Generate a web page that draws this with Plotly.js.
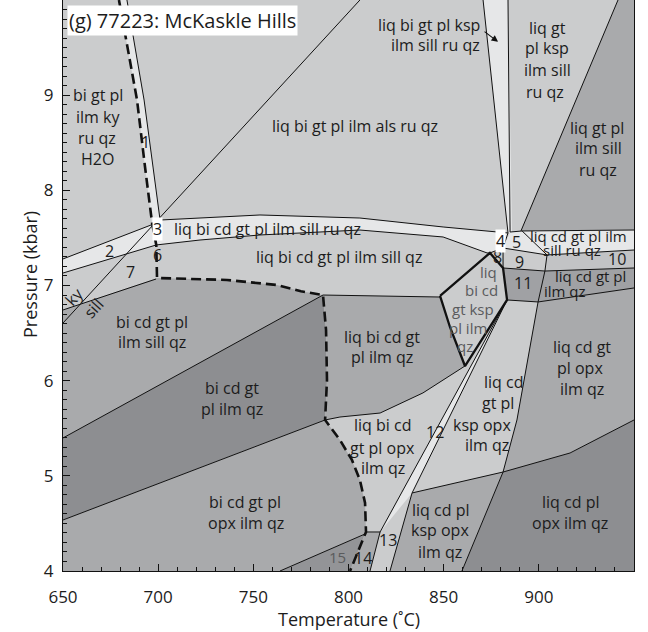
<!DOCTYPE html>
<html>
<head>
<meta charset="utf-8">
<script src="https://cdn.plot.ly/plotly-3.0.1.min.js"></script>
<style>html,body{margin:0;padding:0;background:#fff;}#chart{width:648px;height:632px;}</style>
</head>
<body>
<div id="chart"></div>
<script>
// ---------- field boundaries (Temperature °C, Pressure kbar) ----------
const band1T = [679.4, 688.9, 693.1, 696.8, 701.0, 697.3, 692.6, 683.6];
const band1P = [10, 8.949, 8.245, 7.657, 7.688, 8.245, 8.949, 10];
const band2T = [650, 699.4, 699.0, 650];
const band2P = [7.279, 7.66, 7.426, 7.131];
const bandCT = [699.4, 701.0, 753.5, 806.0, 849.7, 883.8, 881.2, 875.5, 872.8, 849.7, 806.0, 753.5, 722.0, 699.0];
const bandCP = [7.66, 7.688, 7.741, 7.709, 7.615, 7.552, 7.394, 7.35, 7.342, 7.51, 7.583, 7.531, 7.478, 7.426];
const kspBandT = [870.7, 883.8, 885.9, 883.8];
const kspBandP = [10, 10, 7.562, 7.552];
const ruqzT = [941.6, 950, 950, 890.6];
const ruqzP = [10, 10, 7.583, 7.573];
const band5T = [884.9, 891.2, 950, 950, 904.3, 881.2];
const band5P = [7.562, 7.573, 7.583, 7.373, 7.321, 7.394];
const f10T = [904.3, 950, 950, 903.2];
const f10P = [7.321, 7.373, 7.184, 7.152];
const f11T = [881.2, 903.2, 950, 950, 899.6, 883.3];
const f11P = [7.184, 7.152, 7.184, 6.974, 6.827, 6.848];
const fOpxT = [899.6, 950, 950, 916.4, 881.2, 888.5, 893.8];
const fOpxP = [6.827, 6.974, 5.587, 5.24, 5.04, 5.587, 6.186];
const fCdPlT = [881.2, 916.4, 950, 950, 859.6, 870.7];
const fCdPlP = [5.04, 5.24, 5.587, 4, 4, 4.536];
const fKspOpxT = [833.4, 881.2, 870.7, 859.6, 821.8];
const fKspOpxP = [4.82, 5.04, 4.536, 4, 4];
const band12T = [883.3, 833.4, 816.6];
const band12P = [6.848, 4.82, 4.41];
const fLiqQzT = [786.6, 848.1, 853.3, 861.2, 839.1, 816.6, 795.5, 787.7, 788.7, 788.2];
const fLiqQzP = [6.9, 6.879, 6.564, 6.154, 5.871, 5.66, 5.618, 5.587, 6.007, 6.533];
const fSillT = [650, 698.9, 699.4, 736.2, 762.4, 775.0, 786.6, 650];
const fSillP = [6.743, 7.068, 7.079, 7.058, 7.005, 6.94, 6.9, 5.398];
const fDarkT = [650, 786.6, 788.2, 788.7, 787.7, 650];
const fDarkP = [5.398, 6.9, 6.533, 6.007, 5.587, 4.536];
const fBiOpxT = [650, 787.7, 795.5, 801.8, 806.0, 808.7, 809.2, 808.7, 764, 650];
const fBiOpxP = [4.536, 5.587, 5.377, 5.167, 4.956, 4.715, 4.41, 4.389, 4, 4];
const f15T = [764, 808.7, 800.8];
const f15P = [4, 4.389, 4];
const f14T = [808.7, 809.2, 816.6, 811.3, 800.8];
const f14P = [4.389, 4.41, 4.41, 4, 4];

// solidus (dashed)
const solidusT = [679.4, 688.9, 693.1, 696.8, 699.0, 699.4, 736.2, 762.4, 775.0, 786.6, 788.2, 788.7, 787.7, 795.5, 801.8, 806.0, 808.7, 809.2, 800.8];
const solidusP = [10, 8.949, 8.245, 7.657, 7.426, 7.079, 7.058, 7.005, 6.94, 6.9, 6.533, 6.007, 5.587, 5.377, 5.167, 4.956, 4.715, 4.41, 4.0];

// thin reaction lines
const thinLines = [
  [[683.6, 692.6, 697.3, 701.0], [10, 8.949, 8.245, 7.688]],
  [[650, 806], [6.606, 10]],
  [[650, 699.4], [7.279, 7.66]],
  [[650, 699.0], [7.131, 7.426]],
  [[701.0, 753.5, 806, 849.7, 883.8], [7.688, 7.741, 7.709, 7.615, 7.552]],
  [[699.0, 722, 753.5, 806, 849.7, 872.8, 874.3], [7.426, 7.478, 7.531, 7.583, 7.51, 7.342, 7.342]],
  [[870.7, 883.8, 881.2, 881.2], [10, 7.552, 7.394, 7.184]],
  [[883.8, 884.9], [10, 7.562]],
  [[941.6, 890.6], [10, 7.573]],
  [[884.9, 891.2, 950], [7.562, 7.573, 7.583]],
  [[891.2, 904.3], [7.573, 7.321]],
  [[874.3, 881.2, 904.3, 950], [7.342, 7.394, 7.321, 7.373]],
  [[904.3, 903.2, 899.6], [7.321, 7.152, 6.827]],
  [[881.2, 903.2, 950], [7.184, 7.152, 7.184]],
  [[883.3, 899.6, 950], [6.848, 6.827, 6.974]],
  [[899.6, 893.8, 888.5, 881.2, 870.7, 859.6], [6.827, 6.186, 5.587, 5.04, 4.536, 4]],
  [[881.2, 916.4, 950], [5.04, 5.24, 5.587]],
  [[833.4, 881.2], [4.82, 5.04]],
  [[883.3, 833.4, 821.8], [6.848, 4.82, 4]],
  [[883.3, 816.6, 811.3], [6.848, 4.41, 4]],
  [[809.2, 816.6], [4.41, 4.41]],
  [[764, 808.7], [4, 4.389]],
  [[786.6, 848.1], [6.9, 6.879]],
  [[787.7, 795.5, 816.6, 839.1, 861.2], [5.587, 5.618, 5.66, 5.871, 6.154]],
  [[650, 698.9], [6.743, 7.068]],
  [[650, 786.6], [5.398, 6.9]],
  [[650, 787.7], [4.536, 5.587]]
];
// thick boundary of the ksp-bearing liquid field
const thickT = [848.1, 874.3, 881.2, 883.3, 861.2, 853.3, 848.1];
const thickP = [6.89, 7.342, 7.184, 6.848, 6.154, 6.564, 6.89];

// field labels [text, T, P]
const fieldLabels = [
  ["bi gt pl", 668.4, 9.002], ["ilm ky", 668.4, 8.771], ["ru qz", 667.9, 8.55], ["H2O", 667.9, 8.329],
  ["liq bi gt pl ilm als ru qz", 803.4, 8.676],
  ["liq gt", 904.3, 9.706], ["pl ksp", 904.3, 9.496], ["ilm sill", 904.3, 9.264], ["ru qz", 903.2, 9.033],
  ["liq gt pl", 930.6, 8.655], ["ilm sill", 931.1, 8.445], ["ru qz", 931.1, 8.214],
  ["liq bi cd gt pl ilm sill ru qz", 757.2, 7.594],
  ["liq bi cd gt pl ilm sill qz", 795.0, 7.30],
  ["2", 674.2, 7.363], ["7", 685.2, 7.142], ["6", 699.4, 7.321], ["1", 693.1, 8.508],
  ["5", 888.5, 7.457], ["8", 878.3, 7.30], ["9", 890.1, 7.247], ["10", 941.1, 7.279], ["11", 891.7, 7.026],
  ["bi cd gt pl", 696.8, 6.617], ["ilm sill qz", 696.8, 6.406],
  ["bi cd gt", 738.8, 5.923], ["pl ilm qz", 738.8, 5.702],
  ["bi cd gt pl", 745.6, 4.725], ["opx ilm qz", 746.1, 4.504],
  ["liq bi cd gt", 817.6, 6.459], ["pl ilm qz", 817.6, 6.249],
  ["liq bi cd", 818.1, 5.534], ["gt pl opx", 818.1, 5.293], ["ilm qz", 818.1, 5.083],
  ["liq cd", 881.2, 5.986], ["gt pl", 878.5, 5.765], ["ksp opx", 870.1, 5.534], ["ilm qz", 872.8, 5.324],
  ["liq cd gt", 922.7, 6.354], ["pl opx", 921.6, 6.133], ["ilm qz", 922.7, 5.913],
  ["liq cd pl", 848.1, 4.641], ["ksp opx", 848.1, 4.431], ["ilm qz", 848.1, 4.20],
  ["liq cd pl", 916.4, 4.725], ["opx ilm qz", 916.4, 4.504],
  ["13", 820.8, 4.326], ["14", 807.6, 4.137], ["12", 845.5, 5.461]
];
// tightly packed labels on the narrow high-T fields (slightly smaller type)
const narrowLabels = [
  ["liq cd gt pl ilm", 920.9, 7.525], ["sill ru qz", 917.4, 7.375],
  ["liq cd gt pl", 927.4, 7.10], ["ilm qz", 913.8, 6.942]
];
const grayLabels = [
  ["liq", 873.3, 7.14], ["bi cd", 870.1, 6.953], ["gt ksp", 865.4, 6.753], ["pl ilm", 862.8, 6.554], ["qz", 861.2, 6.364],
  ["15", 794.0, 4.147]
];
const boxedLabels = [["3", 699.4, 7.594], ["4", 879.6, 7.465]];

// ---------- styling ----------
const L0 = '#e6e7e8', L1 = '#cbcccd', M = '#a9aaac', M2 = '#a0a1a4', D = '#8d8e91', C10 = '#c2c3c5', C15 = '#939497';
const FONT = 'Open Sans, DejaVu Sans, sans-serif';
const INK = '#1c1c1c';
const LBL = 16;

const fillDefs = [
  [fSillT, fSillP, M], [fDarkT, fDarkP, D], [fBiOpxT, fBiOpxP, M], [f15T, f15P, C15], [f14T, f14P, M],
  [fLiqQzT, fLiqQzP, M], [ruqzT, ruqzP, M], [f10T, f10P, C10], [f11T, f11P, M2],
  [fOpxT, fOpxP, M], [fCdPlT, fCdPlP, D], [fKspOpxT, fKspOpxP, M],
  [band1T, band1P, L0], [band2T, band2P, L0], [bandCT, bandCP, L0], [kspBandT, kspBandP, L0],
  [band5T, band5P, L0], [band12T, band12P, L0]
];

const traces = [];
fillDefs.forEach(([t, p, c]) => {
  traces.push({x: t, y: p, type: 'scatter', mode: 'lines', fill: 'toself', fillcolor: c,
    line: {width: 0, color: c}, hoverinfo: 'skip', showlegend: false});
});
thinLines.forEach(([t, p]) => {
  traces.push({x: t, y: p, type: 'scatter', mode: 'lines', line: {width: 1, color: '#111'},
    hoverinfo: 'skip', showlegend: false});
});
traces.push({x: thickT, y: thickP, type: 'scatter', mode: 'lines', line: {width: 2.3, color: '#111'},
  hoverinfo: 'skip', showlegend: false});
traces.push({x: solidusT, y: solidusP, type: 'scatter', mode: 'lines',
  line: {width: 2.6, color: '#111', dash: '10px,5px'}, hoverinfo: 'skip', showlegend: false});

const annotations = [];
fieldLabels.forEach(([s, t, p]) => annotations.push({x: t, y: p, xref: 'x', yref: 'y', text: s, showarrow: false,
  font: {family: FONT, size: LBL, color: INK}}));
narrowLabels.forEach(([s, t, p]) => annotations.push({x: t, y: p, xref: 'x', yref: 'y', text: s, showarrow: false,
  font: {family: FONT, size: 15, color: INK}}));
grayLabels.forEach(([s, t, p]) => annotations.push({x: t, y: p, xref: 'x', yref: 'y', text: s, showarrow: false,
  font: {family: FONT, size: 15, color: '#5a5b5d'}}));
boxedLabels.forEach(([s, t, p]) => annotations.push({x: t, y: p, xref: 'x', yref: 'y', text: s, showarrow: false,
  bgcolor: '#ffffff', borderpad: 0, font: {family: FONT, size: LBL, color: INK}}));
// ky / sill along the reaction line
annotations.push({x: 655.8, y: 6.875, xref: 'x', yref: 'y', text: 'ky', textangle: -48, showarrow: false,
  font: {family: FONT, size: LBL, color: INK}});
annotations.push({x: 666.3, y: 6.76, xref: 'x', yref: 'y', text: 'sill', textangle: -48, showarrow: false,
  font: {family: FONT, size: LBL, color: INK}});
// ksp band label with arrow
annotations.push({x: 870.1, y: 9.737, xref: 'x', yref: 'y', text: 'liq bi gt pl ksp', xanchor: 'right', showarrow: false,
  font: {family: FONT, size: LBL, color: INK}});
annotations.push({x: 870.1, y: 9.527, xref: 'x', yref: 'y', text: 'ilm sill ru qz', xanchor: 'right', showarrow: false,
  font: {family: FONT, size: LBL, color: INK}});
annotations.push({x: 878.6, y: 9.56, ax: 870.7, ay: 9.68, xref: 'x', yref: 'y', axref: 'x', ayref: 'y', text: '',
  showarrow: true, arrowhead: 2, arrowsize: 1.2, arrowwidth: 1.1, arrowcolor: '#111'});
// panel title
annotations.push({x: 652.1, y: 9.785, xref: 'x', yref: 'y', text: '(g) 77223: McKaskle Hills', xanchor: 'left',
  showarrow: false, bgcolor: '#ffffff', borderpad: 1, font: {family: FONT, size: 20, color: INK}});
// axis titles
annotations.push({x: 0.5, y: -0.084, xref: 'paper', yref: 'paper', text: 'Temperature (˚C)', showarrow: false,
  yanchor: 'middle', font: {family: FONT, size: 18, color: INK}});
annotations.push({x: -0.058, y: 0.52, xref: 'paper', yref: 'paper', text: 'Pressure (kbar)', showarrow: false,
  textangle: -90, xanchor: 'center', font: {family: FONT, size: 18, color: INK}});

const axisCommon = {
  showgrid: false, zeroline: false, showline: true, mirror: true, linecolor: '#111', linewidth: 1.2,
  ticks: 'inside', ticklen: 7, tickwidth: 1, tickcolor: '#111',
  tickfont: {family: FONT, size: 17, color: INK}, layer: 'above traces'
};

const layout = {
  width: 648, height: 632,
  margin: {l: 63, r: 14, t: 0, b: 61},
  paper_bgcolor: '#ffffff', plot_bgcolor: L1,
  showlegend: false,
  xaxis: Object.assign({}, axisCommon, {range: [650, 950], tickvals: [650, 700, 750, 800, 850, 900, 950],
    ticklabelstandoff: 10, minor: {dtick: 10, ticks: 'inside', ticklen: 4, tickcolor: '#111'}}),
  yaxis: Object.assign({}, axisCommon, {range: [4, 10], tickvals: [4, 5, 6, 7, 8, 9, 10],
    ticklabelstandoff: 5, minor: {dtick: 0.1, ticks: 'inside', ticklen: 4, tickcolor: '#111'}}),
  annotations: annotations
};

Plotly.newPlot('chart', traces, layout, {staticPlot: true, displayModeBar: false});
</script>
</body>
</html>
